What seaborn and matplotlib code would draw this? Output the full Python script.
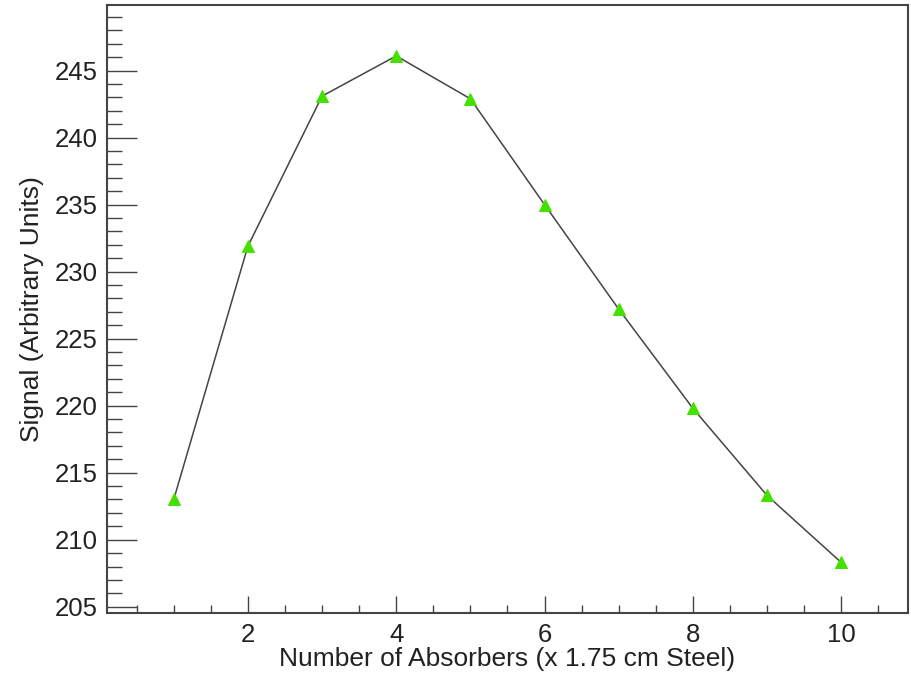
import numpy as np
import pandas as pd
import seaborn as sns
import matplotlib.pyplot as plt
from matplotlib.ticker import MultipleLocator

# data
absorbers = [1, 2, 3, 4, 5, 6, 7, 8, 9, 10]
signal = [213.0, 231.9, 243.1, 246.1, 242.9, 235.0, 227.2, 219.8, 213.3, 208.3]

data = pd.DataFrame({'absorbers': absorbers, 'signal': signal})

sns.set_style('ticks')
plt.rcParams['font.family'] = ['Liberation Sans', 'DejaVu Sans']

fig = plt.figure(figsize=(9.12, 6.74), dpi=100)
ax = fig.add_axes([0.1173, 0.0905, 0.8783, 0.9021])

sns.lineplot(data=data, x='absorbers', y='signal', ax=ax, color='#444444',
             linewidth=1.1, marker='^', markersize=8,
             markerfacecolor='#44e000', markeredgecolor='#44e000')

ax.set_xlim(0.1, 10.9)
ax.set_ylim(204.53, 249.9)

ax.xaxis.set_major_locator(MultipleLocator(2))
ax.xaxis.set_minor_locator(MultipleLocator(0.5))
ax.yaxis.set_major_locator(MultipleLocator(5))
ax.yaxis.set_minor_locator(MultipleLocator(1))

# tick lengths in points (ROOT style, inward, left and bottom only)
ax.tick_params(axis='y', which='major', direction='in', length=21.6, width=1.0,
               labelsize=18.5, pad=6.5, color='#444444')
ax.tick_params(axis='y', which='minor', direction='in', length=10.8, width=1.0,
               color='#444444')
ax.tick_params(axis='x', which='major', direction='in', length=12.2, width=1.0,
               labelsize=18.5, pad=7, color='#444444')
ax.tick_params(axis='x', which='minor', direction='in', length=5.8, width=1.0,
               color='#444444')

for s in ax.spines.values():
    s.set_visible(True)
    s.set_linewidth(1.5)
    s.set_color('#444444')

ax.set_xlabel('Number of Absorbers (x 1.75 cm Steel)', fontsize=19, labelpad=0.5, color='#222222')
ax.set_ylabel('Signal (Arbitrary Units)', fontsize=19, labelpad=8, color='#222222')
for lab in ax.get_xticklabels() + ax.get_yticklabels():
    lab.set_color('#222222')

fig.savefig('out.png', dpi=100)
